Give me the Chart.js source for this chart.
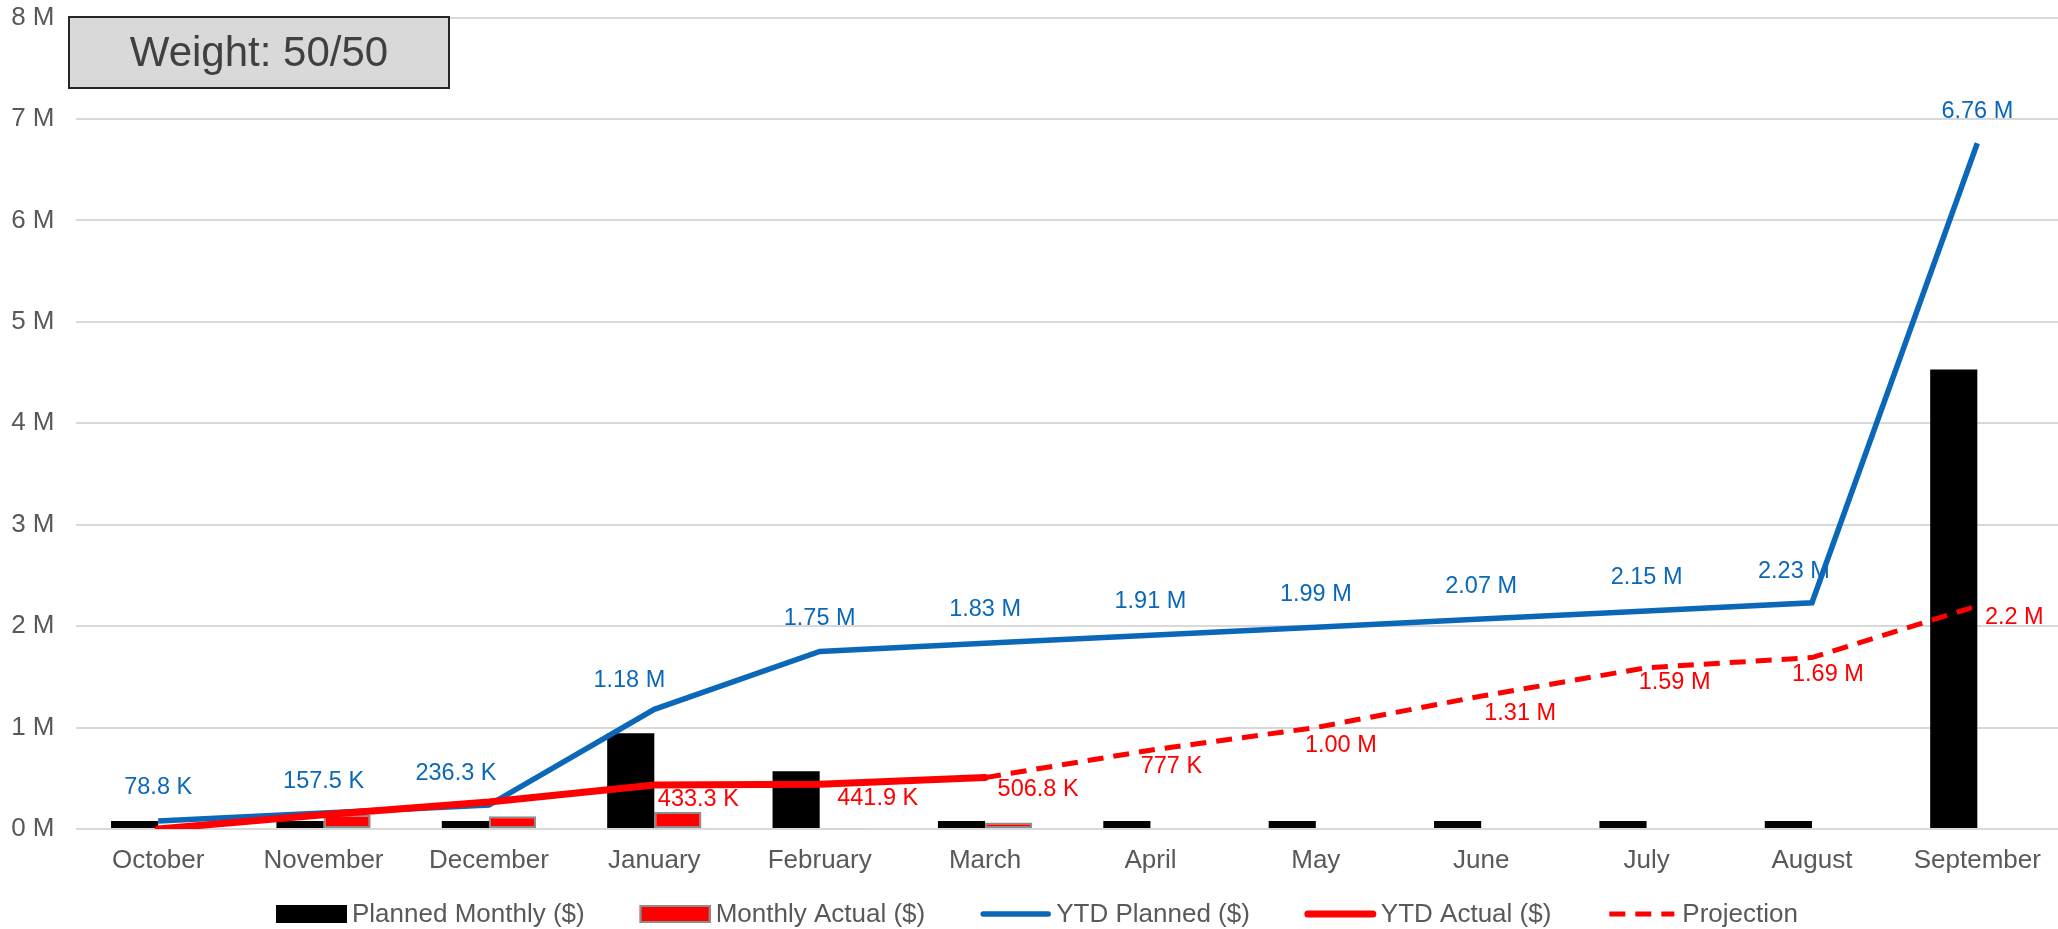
<!DOCTYPE html>
<html>
<head>
<meta charset="utf-8">
<title>Planned vs Actual</title>
<script src="https://cdn.jsdelivr.net/npm/chart.js@4.4.1/dist/chart.umd.min.js"></script>
<style>
  html, body { margin: 0; padding: 0; background: #ffffff; overflow: hidden; }
  #wrap { position: relative; width: 2060px; height: 929px; }
</style>
</head>
<body>
<div id="wrap"><canvas id="chart"></canvas></div>
<script>
// ---- data ----
const months = ['October', 'November', 'December', 'January', 'February', 'March',
                'April', 'May', 'June', 'July', 'August', 'September'];

const plannedMonthly = [78800, 78700, 78800, 943700, 570000, 80000,
                        80000, 80000, 80000, 80000, 80000, 4530000];

const monthlyActual = [null, 141000, 125000, 167300, 8600, 64900,
                       null, null, null, null, null, null];

const ytdPlanned = [78800, 157500, 236300, 1180000, 1750000, 1830000,
                    1910000, 1990000, 2070000, 2150000, 2230000, 6760000];
const ytdPlannedText = ['78.8 K', '157.5 K', '236.3 K', '1.18 M', '1.75 M', '1.83 M',
                        '1.91 M', '1.99 M', '2.07 M', '2.15 M', '2.23 M', '6.76 M'];

const ytdActual = [0, 141000, 266000, 433300, 441900, 506800,
                   null, null, null, null, null, null];
const ytdActualText = [null, null, null, '433.3 K', '441.9 K', '506.8 K',
                       null, null, null, null, null, null];

const projection = [null, null, null, null, null, 506800,
                    777000, 1000000, 1310000, 1590000, 1690000, 2200000];
const projectionText = [null, null, null, null, null, null,
                        '777 K', '1.00 M', '1.31 M', '1.59 M', '1.69 M', '2.2 M'];

const yTickLabels = ['0 M', '1 M', '2 M', '3 M', '4 M', '5 M', '6 M', '7 M', '8 M'];
const weightNote = 'Weight: 50/50';

// ---- styling ----
const FONT = '"Liberation Sans", Arial, sans-serif';
const AXIS_TEXT = '#595959';
const BLUE = '#0b68b8';
const RED = '#ff0000';

// value labels next to the line points
const valueLabels = {
  id: 'valueLabels',
  afterDatasetsDraw(chart, args, opts) {
    const ctx = chart.ctx;
    ctx.save();
    ctx.font = opts.font;
    ctx.textAlign = 'center';
    ctx.textBaseline = 'middle';
    opts.series.forEach(s => {
      const meta = chart.getDatasetMeta(s.datasetIndex);
      ctx.fillStyle = s.color;
      s.texts.forEach((t, i) => {
        if (t == null) return;
        const el = meta.data[i];
        if (!el || el.skip) return;
        const off = s.offsets[i] || [0, 0];
        ctx.fillText(t, el.x + off[0], el.y + off[1]);
      });
    });
    ctx.restore();
  }
};

// note box in the upper-left corner
const noteBox = {
  id: 'noteBox',
  afterDraw(chart, args, opts) {
    const ctx = chart.ctx;
    ctx.save();
    ctx.fillStyle = '#d9d9d9';
    ctx.fillRect(opts.x, opts.y, opts.w, opts.h);
    ctx.strokeStyle = '#262626';
    ctx.lineWidth = 2;
    ctx.strokeRect(opts.x, opts.y, opts.w, opts.h);
    ctx.fillStyle = '#404040';
    ctx.font = opts.font;
    ctx.textAlign = 'center';
    ctx.textBaseline = 'middle';
    ctx.fillText(opts.text, opts.x + opts.w / 2, opts.y + opts.h / 2 + 2);
    ctx.restore();
  }
};

// legend row under the axis
const bottomLegend = {
  id: 'bottomLegend',
  afterDraw(chart, args, opts) {
    const ctx = chart.ctx;
    ctx.save();
    ctx.font = opts.font;
    ctx.textBaseline = 'middle';
    ctx.textAlign = 'left';
    let x = opts.startX;
    const y = opts.y;
    chart.data.datasets.forEach(ds => {
      const sw = opts.symbolWidth;
      if (ds.type === 'bar') {
        const h = opts.boxHeight;
        ctx.fillStyle = ds.backgroundColor;
        ctx.fillRect(x, y - h / 2, sw, h);
        if (ds.borderWidth) {
          ctx.strokeStyle = ds.borderColor;
          ctx.lineWidth = ds.borderWidth;
          ctx.strokeRect(x + 1, y - h / 2 + 1, sw - 2, h - 2);
        }
      } else {
        ctx.strokeStyle = ds.borderColor;
        ctx.lineWidth = ds.borderWidth;
        ctx.setLineDash(ds.borderDash || []);
        ctx.lineCap = ds.borderDash ? 'butt' : 'round';
        ctx.beginPath();
        ctx.moveTo(x + 3, y);
        ctx.lineTo(x + sw - 3, y);
        ctx.stroke();
        ctx.setLineDash([]);
      }
      ctx.fillStyle = AXIS_TEXT;
      const tx = x + sw + opts.textGap;
      ctx.fillText(ds.label, tx, y + 1);
      x = tx + ctx.measureText(ds.label).width + opts.itemGap;
    });
    ctx.restore();
  }
};

new Chart(document.getElementById('chart'), {
  data: {
    labels: months,
    datasets: [
      {
        type: 'bar',
        label: 'Planned Monthly ($)',
        data: plannedMonthly,
        backgroundColor: '#000000',
        borderWidth: 0,
        categoryPercentage: 0.57,
        barPercentage: 1.0,
        order: 4
      },
      {
        type: 'bar',
        label: 'Monthly Actual ($)',
        data: monthlyActual,
        backgroundColor: RED,
        borderColor: '#8c8c8c',
        borderWidth: 2,
        borderSkipped: false,
        categoryPercentage: 0.57,
        barPercentage: 1.0,
        order: 5
      },
      {
        type: 'line',
        label: 'YTD Planned ($)',
        data: ytdPlanned,
        borderColor: BLUE,
        backgroundColor: BLUE,
        borderWidth: 5.5,
        pointRadius: 0,
        tension: 0,
        order: 3
      },
      {
        type: 'line',
        label: 'YTD Actual ($)',
        data: ytdActual,
        borderColor: RED,
        backgroundColor: RED,
        borderWidth: 7,
        pointRadius: 0,
        tension: 0,
        borderCapStyle: 'round',
        order: 1
      },
      {
        type: 'line',
        label: 'Projection',
        data: projection,
        borderColor: RED,
        backgroundColor: RED,
        borderWidth: 5,
        borderDash: [16, 10],
        pointRadius: 0,
        tension: 0,
        order: 2
      }
    ]
  },
  options: {
    responsive: true,
    maintainAspectRatio: false,
    animation: false,
    devicePixelRatio: 1,
    layout: { padding: { top: 17.5, right: 0, bottom: 0, left: 0 } },
    scales: {
      x: {
        grid: { display: false, drawTicks: false },
        border: { display: false },
        ticks: {
          color: AXIS_TEXT,
          font: { family: FONT, size: 26 },
          padding: 16,
          maxRotation: 0,
          autoSkip: false
        },
        afterFit(scale) { scale.height = 100; }
      },
      y: {
        min: 0,
        max: 8000000,
        grid: { color: '#d9d9d9', lineWidth: 2, drawTicks: false },
        border: { display: false },
        ticks: {
          stepSize: 1000000,
          color: AXIS_TEXT,
          font: { family: FONT, size: 26 },
          padding: 21,
          callback: (v, i) => yTickLabels[i]
        },
        afterFit(scale) {
          scale.width = 75.5;
          scale.paddingTop = 0;
          scale.paddingBottom = 0;
        }
      }
    },
    plugins: {
      legend: { display: false },
      tooltip: { enabled: false },
      valueLabels: {
        font: '23.5px ' + FONT,
        series: [
          {
            datasetIndex: 2, color: BLUE, texts: ytdPlannedText,
            offsets: [[0, -33], [0, -32], [-33, -32], [-25, -29], [0, -33], [0, -34],
                      [0, -34], [0, -33], [0, -33], [0, -33], [-18, -31], [0, -32]]
          },
          {
            datasetIndex: 3, color: RED, texts: ytdActualText,
            offsets: [null, null, null, [44, 14], [58, 14], [53, 12],
                      null, null, null, null, null, null]
          },
          {
            datasetIndex: 4, color: RED, texts: projectionText,
            offsets: [null, null, null, null, null, null,
                      [21, 16], [25, 18], [39, 17], [28, 15], [16, 17], [37, 12]]
          }
        ]
      },
      noteBox: { x: 69, y: 17, w: 380, h: 71, text: weightNote, font: '42px ' + FONT },
      bottomLegend: {
        font: '26px ' + FONT, startX: 276, y: 914, symbolWidth: 71,
        boxHeight: 18, textGap: 5, itemGap: 55
      }
    }
  },
  plugins: [valueLabels, noteBox, bottomLegend]
});
</script>
</body>
</html>
